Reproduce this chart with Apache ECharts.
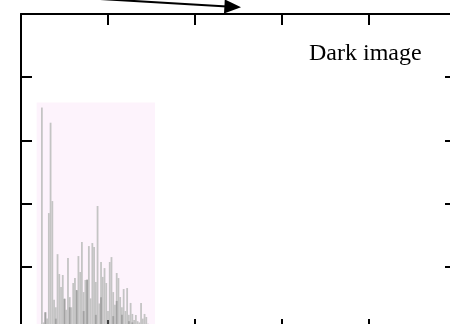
<!DOCTYPE html>
<html><head><meta charset="utf-8">
<script src="https://cdn.jsdelivr.net/npm/echarts@6/dist/echarts.min.js"></script>
<style>html,body{margin:0;padding:0;background:#fff}#c{width:450px;height:324px}</style>
</head><body><div id="c"></div>
<script>
// Histogram of a dark image: intensity level -> pixel count
const levels = [12,13,14,15,16,17,18,19,20,21,22,23,24,25,26,27,28,29,30,31,32,33,34,35,36,37,38,39,40,41,42,43,44,45,46,47,48,49,50,51,52,53,54,55,56,57,58,59,60,61,62,63,64,65,66,67,68,69,70,71,72,73,74];
const counts = [1760,60,140,90,925,1640,1020,240,180,600,443,340,435,250,160,570,260,180,372,411,310,585,459,696,300,396,400,664,250,688,657,380,981,210,538,420,490,372,150,538,577,300,200,451,411,261,180,324,150,332,120,214,127,80,119,70,60,214,90,127,103,50,20];
// darker overlapping portions
const darkLevels = [14,20,25,28,32,36,38,43,46,53,55,58,62,64,67];
const darkCounts = [140,90,245,180,316,150,396,120,260,110,230,120,70,60,40];
const blackLevels = [50];
const blackCounts = [80];
// highlighted range
const rangeX = [9, 77];
const rangeY = [0, 1800];
const xTicks = {min:0, max:250, interval:50};
const yTicks = {min:0, max:2500, interval:500};

const pair = (xs, ys) => xs.map((x,i)=>[x, ys[i]]);

const chart = echarts.init(document.getElementById('c'), null, {renderer:'canvas'});
const mk = (ticks, pos) => Object.assign({
  type:'value', position:pos,
  axisLine:{show:true, onZero:false, lineStyle:{color:'#000', width:2}},
  axisTick:{show:true, inside:true, length:11, lineStyle:{color:'#000', width:2}},
  axisLabel:{show:false}, splitLine:{show:false}
}, ticks);
chart.setOption({
  animation:false,
  grid:{left:21, top:14, width:435, height:316, containLabel:false, outerBoundsMode:'none'},
  xAxis:[mk(xTicks,'bottom'), mk(xTicks,'top')],
  yAxis:[mk(yTicks,'left'), mk(yTicks,'right')],
  series:[
    {type:'line', data:[], z:1, silent:true,
     markArea:{silent:true, itemStyle:{color:'#fdf3fc'},
       data:[[{xAxis:rangeX[0], yAxis:rangeY[0]},{xAxis:rangeX[1], yAxis:rangeY[1]}]]}},
    {type:'bar', data:pair(levels,counts), barWidth:1.8, barGap:'-100%', z:2,
     itemStyle:{color:'#c4c4c4'}},
    {type:'bar', data:pair(darkLevels,darkCounts), barWidth:1.8, barGap:'-100%', z:3,
     itemStyle:{color:'#a2a2a2'}},
    {type:'bar', data:pair(blackLevels,blackCounts), barWidth:1.8, barGap:'-100%', z:3,
     itemStyle:{color:'#333'}}
  ],
  graphic:[
    {type:'line', shape:{x1:100, y1:-1, x2:227, y2:6.4}, style:{stroke:'#000', lineWidth:2}, z:10},
    {type:'polygon', shape:{points:[[241,7.3],[224.8,-0.6],[224.0,13.4]]}, style:{fill:'#000'}, z:10},
    {type:'text', x:309, y:54, style:{text:'Dark image', font:'24px "Liberation Serif", "Times New Roman", serif',
      fill:'#000', verticalAlign:'middle', align:'left'}, z:10}
  ]
});
</script></body></html>
